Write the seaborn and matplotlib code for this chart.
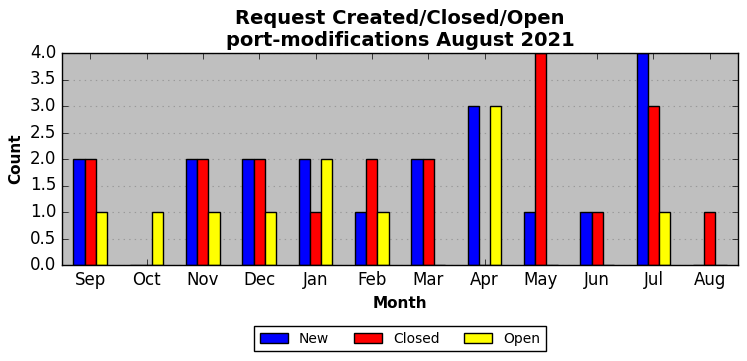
import pandas as pd
import seaborn as sns
import matplotlib
matplotlib.use('Agg')
import matplotlib.pyplot as plt

# Monthly request counts
months = ['Sep', 'Oct', 'Nov', 'Dec', 'Jan', 'Feb', 'Mar', 'Apr', 'May', 'Jun', 'Jul', 'Aug']
new = [2, 0, 2, 2, 2, 1, 2, 3, 1, 1, 4, 0]
closed = [2, 0, 2, 2, 1, 2, 2, 0, 4, 1, 3, 1]
open_ = [1, 1, 1, 1, 2, 1, 0, 3, 0, 0, 1, 0]

df = pd.DataFrame({'Month': months, 'New': new, 'Closed': closed, 'Open': open_})
long_df = df.melt(id_vars='Month', var_name='Status', value_name='Count')

plt.style.use('classic')
plt.rcParams['font.family'] = 'DejaVu Sans'

fig = plt.figure(figsize=(7.47, 3.61), dpi=100)
ax = fig.add_axes([62 / 747, 1 - 265 / 361, 676 / 747, 212 / 361])
ax.set_facecolor('#bfbfbf')

sns.barplot(data=long_df, x='Month', y='Count', hue='Status', order=months,
            hue_order=['New', 'Closed', 'Open'],
            palette={'New': 'blue', 'Closed': 'red', 'Open': 'yellow'},
            width=0.6, edgecolor='black', linewidth=1, saturation=1, ax=ax)

ax.set_xlim(-0.5, len(months) - 0.5)
ax.set_ylim(0, 4)
ax.set_yticks([0, 0.5, 1, 1.5, 2, 2.5, 3, 3.5, 4])
ax.yaxis.grid(True, linestyle=':', color='#999999', linewidth=0.8)
ax.set_axisbelow(True)
ax.tick_params(labelsize=12)

ax.set_title('Request Created/Closed/Open\nport-modifications August 2021',
             fontsize=14, fontweight='bold')
ax.set_xlabel('Month', fontsize=11, fontweight='bold')
ax.set_ylabel('Count', fontsize=11, fontweight='bold')

ax.legend(loc='upper center', bbox_to_anchor=(0.5, -0.255), ncol=3,
          fontsize=10, frameon=True, fancybox=False, borderpad=0.4,
          columnspacing=1.8)

fig.savefig('out.png', dpi=100)
